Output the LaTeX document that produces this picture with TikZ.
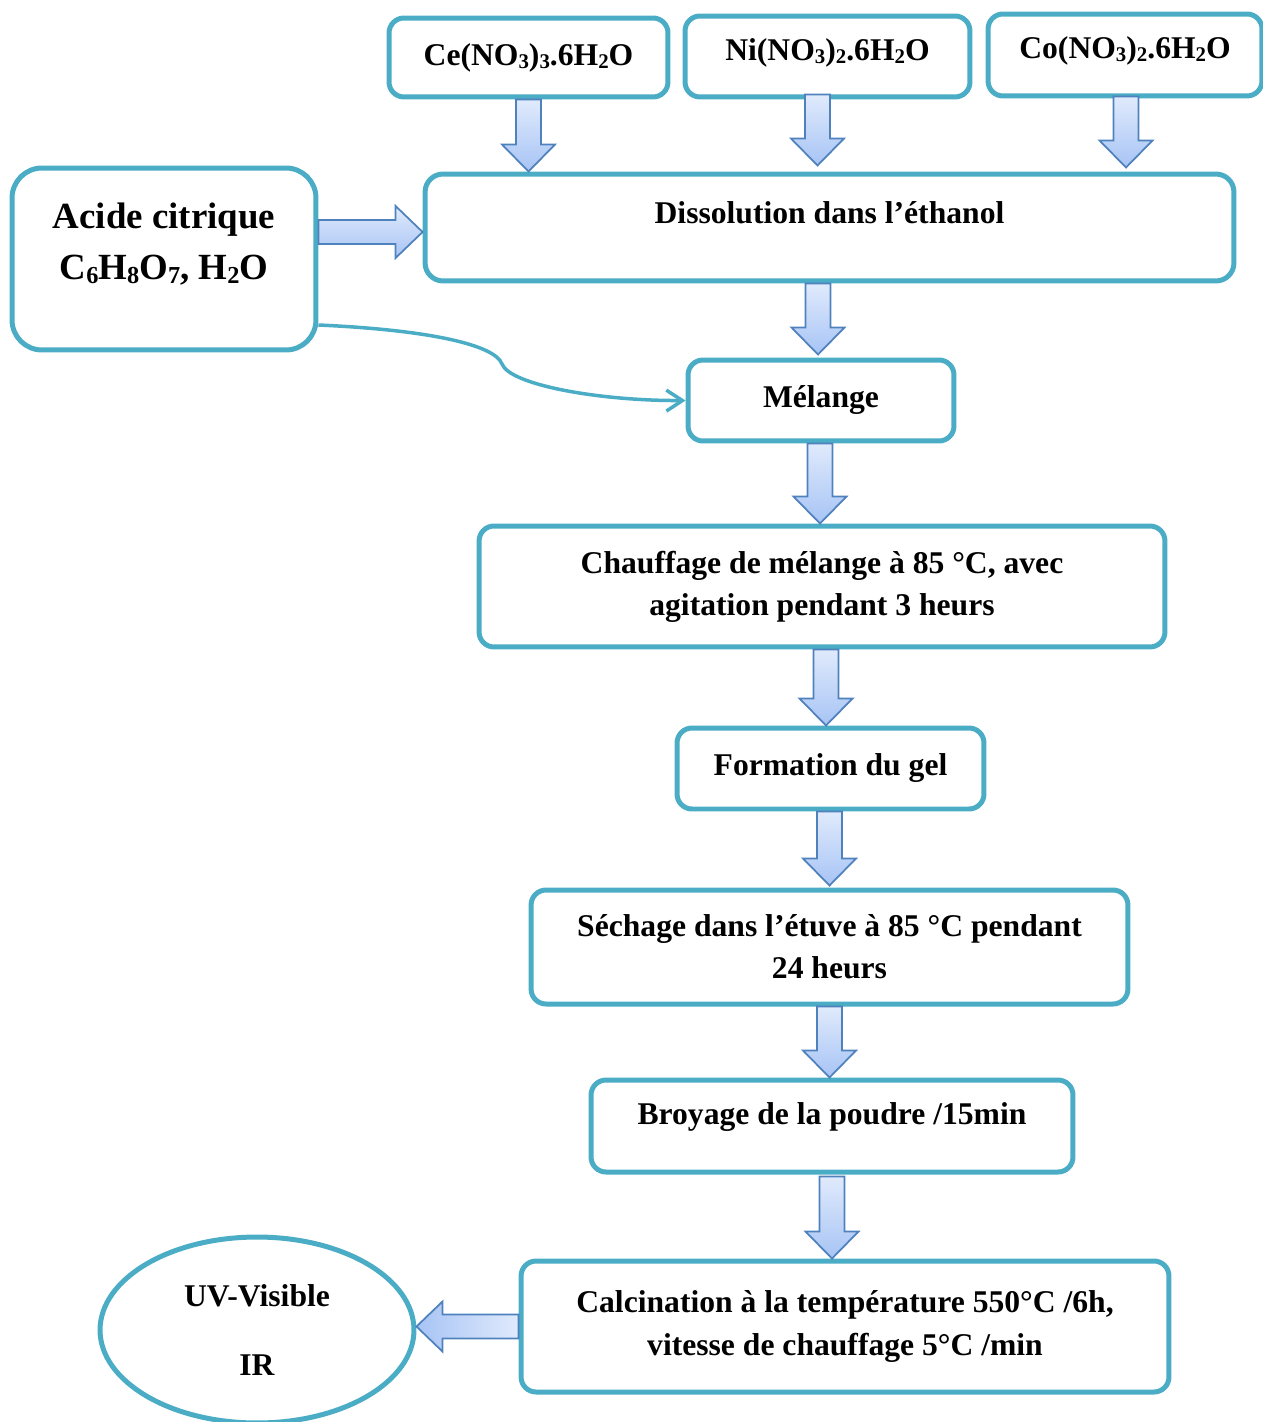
\documentclass[tikz,border=0pt]{standalone}
\usepackage{fontspec}
\setmainfont{Liberation Serif}
\usetikzlibrary{shapes.geometric,calc,arrows.meta}

% small chemistry index, close to the baseline
\newcommand{\ix}[1]{\raisebox{-0.1em}{\scalebox{0.66}{#1}}}

% block arrows: #1 start, #2 tip
\newcommand{\blockdown}[2]{%
  \path[blockarrow, top color=arrowtop, bottom color=arrowbot] let \p1=#1, \p2=#2 in
    (\x1-0.25cm,\y1) -- (\x1+0.25cm,\y1) -- (\x1+0.25cm,\y2+0.54cm) -- (\x1+0.53cm,\y2+0.54cm)
    -- (\x1,\y2) -- (\x1-0.53cm,\y2+0.54cm) -- (\x1-0.25cm,\y2+0.54cm) -- cycle;}
\newcommand{\blockright}[2]{%
  \path[blockarrow, top color=arrowtop, bottom color=arrowbot] let \p1=#1, \p2=#2 in
    (\x1,\y1+0.24cm) -- (\x2-0.54cm,\y1+0.24cm) -- (\x2-0.54cm,\y1+0.52cm)
    -- (\x2,\y1) -- (\x2-0.54cm,\y1-0.52cm) -- (\x2-0.54cm,\y1-0.24cm) -- (\x1,\y1-0.24cm) -- cycle;}
\newcommand{\blockleft}[2]{%
  \path[blockarrow, left color=arrowbot, right color=arrowtop] let \p1=#1, \p2=#2 in
    (\x1,\y1+0.24cm) -- (\x2+0.52cm,\y1+0.24cm) -- (\x2+0.52cm,\y1+0.5cm)
    -- (\x2,\y1) -- (\x2+0.52cm,\y1-0.5cm) -- (\x2+0.52cm,\y1-0.24cm) -- (\x1,\y1-0.24cm) -- cycle;}

\begin{document}
\begin{tikzpicture}[x=0.02cm,y=-0.02cm,
    stepbox/.style={draw=boxline, line width=0.1cm, rounded corners=0.3cm, align=center,
      inner sep=0pt, font=\fontsize{18}{24}\selectfont\bfseries},
    blockarrow/.style={draw=arrowline, line width=0.035cm, line join=miter},
    feedline/.style={draw=boxline, line width=0.07cm, -{Straight Barb[length=0.32cm,width=0.42cm]}}]

  % Changing colors
  \definecolor{boxline}{RGB}{75,172,198}%
  \definecolor{arrowline}{RGB}{79,129,189}%
  \definecolor{arrowtop}{RGB}{224,234,252}%
  \definecolor{arrowbot}{RGB}{167,196,245}%

  \useasboundingbox (0,0) rectangle (1263,1422);

  % Precursors
  \node[stepbox, minimum width=5.58cm, minimum height=1.58cm] (ce) at (528.5,57.5)
    {Ce(NO\ix{3})\ix{3}.6H\ix{2}O};
  \node[stepbox, minimum width=5.70cm, minimum height=1.62cm, text depth=8pt] (ni) at (827.5,56.5)
    {Ni(NO\ix{3})\ix{2}.6H\ix{2}O};
  \node[stepbox, minimum width=5.48cm, minimum height=1.64cm, text depth=9pt] (co) at (1125,55)
    {Co(NO\ix{3})\ix{2}.6H\ix{2}O};

  % Citric acid
  \node[stepbox, minimum width=6.08cm, minimum height=3.64cm, rounded corners=0.6cm,
    font=\fontsize{21}{29}\selectfont\bfseries, text depth=20pt] (acide) at (164,259)
    {Acide citrique\\C\ix{6}H\ix{8}O\ix{7}, H\ix{2}O};

  % Process steps
  \node[stepbox, minimum width=16.18cm, minimum height=2.14cm, rounded corners=0.36cm,
    text depth=16.5pt] (diss) at (829.5,227.5) {Dissolution dans l’éthanol};
  \node[stepbox, minimum width=5.32cm, minimum height=1.62cm] (mel) at (821,400.5) {Mélange};
  \node[stepbox, minimum width=13.72cm, minimum height=2.42cm] (chauf) at (822,586.5)
    {Chauffage de mélange à 85 °C, avec\\agitation pendant 3 heurs};
  \node[stepbox, minimum width=6.14cm, minimum height=1.62cm] (form) at (830.5,768.5) {Formation du gel};
  \node[stepbox, minimum width=11.94cm, minimum height=2.28cm] (sech) at (829.5,947)
    {Séchage dans l’étuve à 85 °C pendant\\24 heurs};
  \node[stepbox, minimum width=9.64cm, minimum height=1.84cm, text depth=14pt] (broy) at (832,1126)
    {Broyage de la poudre /15min};
  \node[stepbox, minimum width=12.96cm, minimum height=2.62cm] (calc) at (845,1326.5)
    {Calcination à la température 550°C /6h,\\vitesse de chauffage 5°C /min};

  % Characterisation
  \node[stepbox, ellipse, minimum width=6.28cm, minimum height=3.72cm] (uv) at (257,1330)
    {UV-Visible\\[15pt]IR};

  % Drawing block arrows
  \blockdown{(ce.south)}{(diss.north)}
  \blockdown{($(ni.south)+(-10,-5)$)}{($(diss.north)+(0,-6)$)}
  \blockdown{($(co.south)+(1,-2)$)}{($(diss.north)+(0,-4)$)}
  \blockright{($(acide.east)+(0,-27)$)}{(diss.west)}
  \blockdown{($(diss.south -| mel.north)+(-3,0)$)}{($(mel.north)+(0,-3)$)}
  \blockdown{($(mel.south)+(-1,0)$)}{(chauf.north)}
  \blockdown{($(chauf.south)+(4,0)$)}{(form.north)}
  \blockdown{($(form.south)+(-1,0)$)}{($(sech.north)+(0,-2)$)}
  \blockdown{(sech.south)}{(broy.north)}
  \blockdown{($(broy.south)+(0,2)$)}{(calc.north)}
  \blockleft{(calc.west)}{(uv.east)}

  % Drawing curved line acide -> melange
  \draw[feedline] ($(acide.east)+(0,66)$) .. controls (430,330) and (495,345) .. (502,364)
    .. controls (510,385) and (600,401) .. (mel.west);
\end{tikzpicture}
\end{document}
